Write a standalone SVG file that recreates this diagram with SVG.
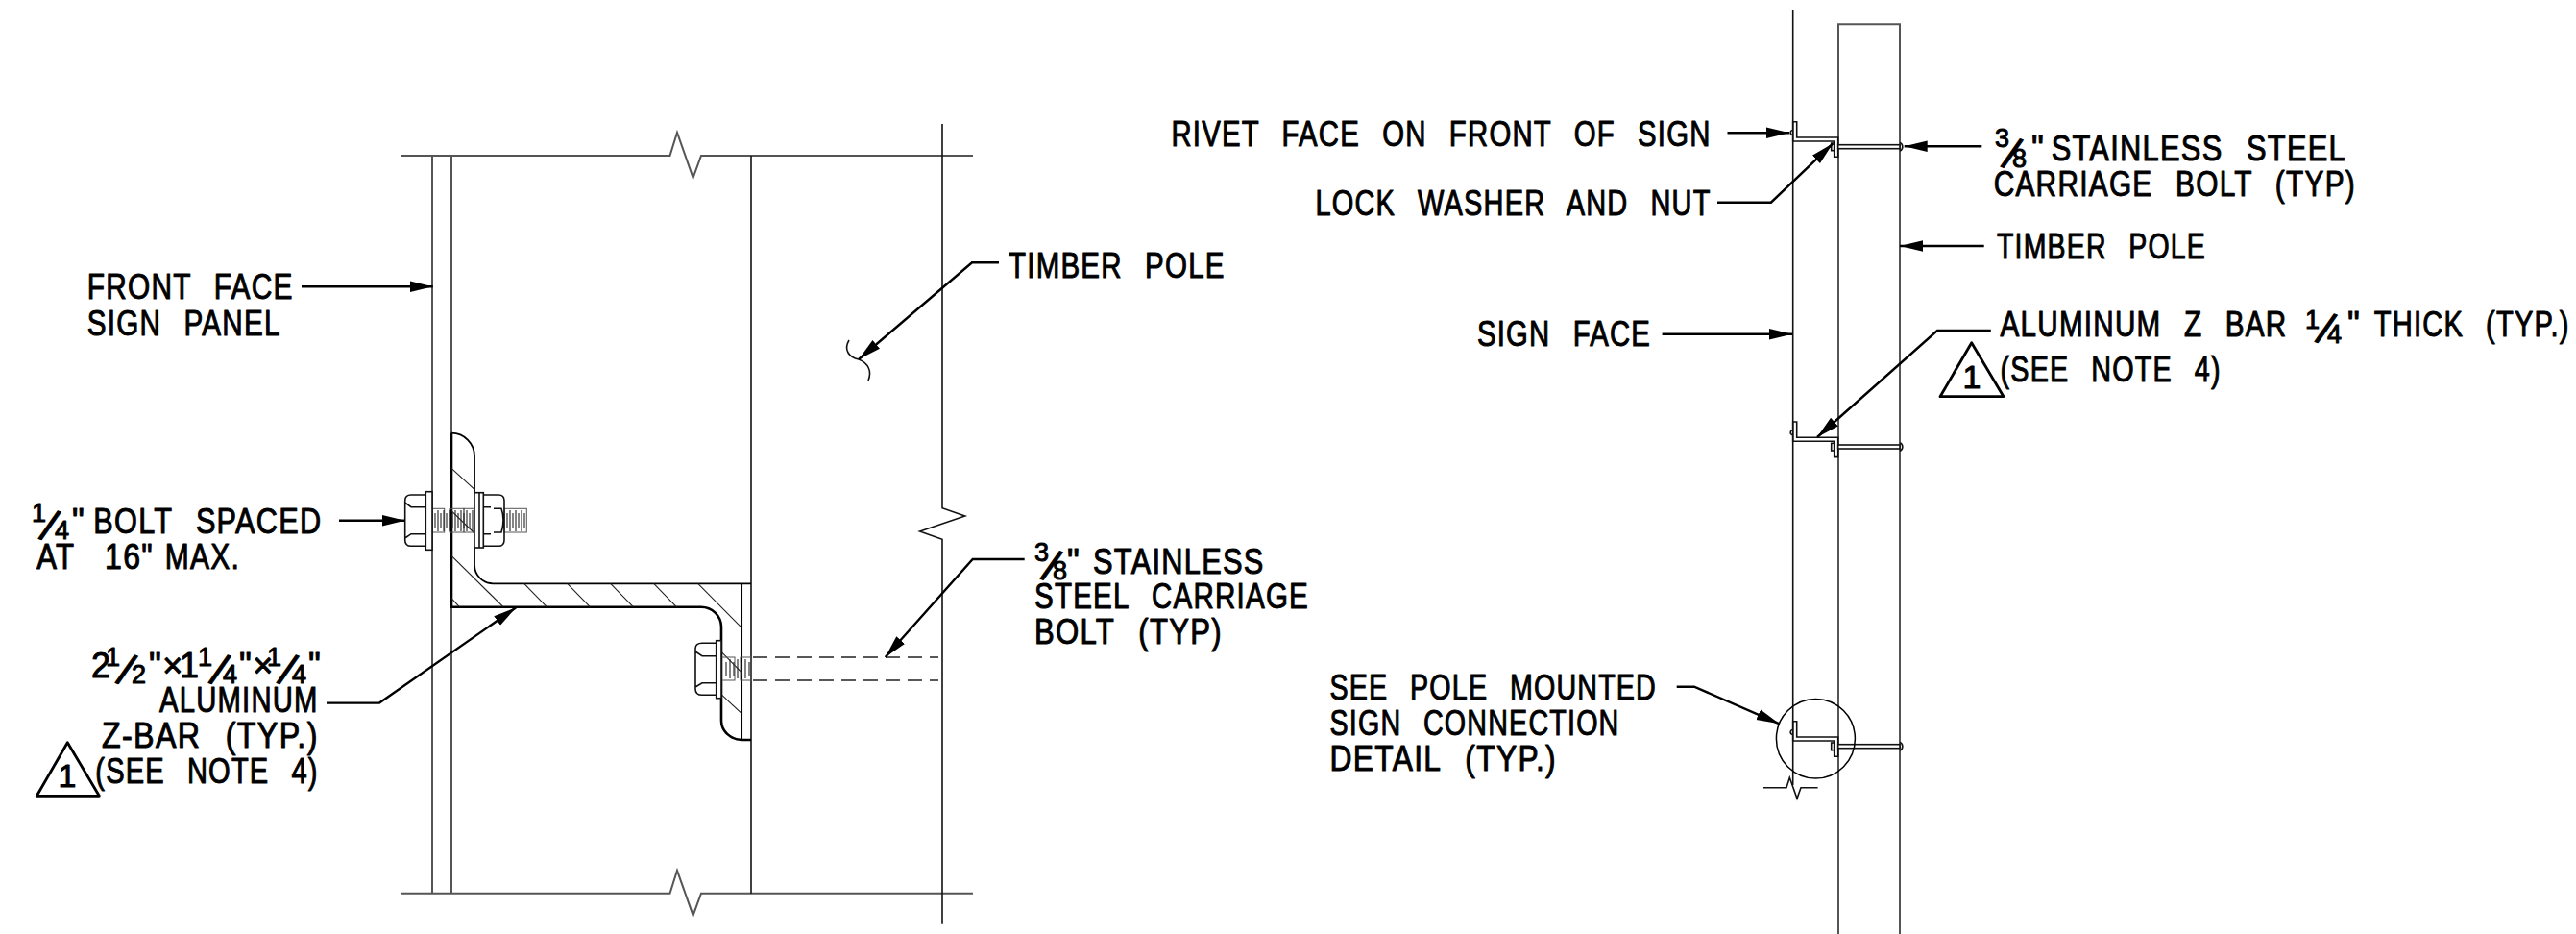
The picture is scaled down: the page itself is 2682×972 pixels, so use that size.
<svg xmlns="http://www.w3.org/2000/svg" xmlns:xlink="http://www.w3.org/1999/xlink" width="2682" height="972" viewBox="0 0 2682 972">
<style>
text{font-family:"Liberation Sans",Arial,sans-serif;font-size:36px;fill:#000;stroke:#000;stroke-width:1;stroke-linejoin:round;letter-spacing:1.5px;word-spacing:17px;white-space:pre}
.f{font-size:27px}
.s{font-size:46px}
.b{font-size:36px}
path,line,ellipse,rect{fill:none;stroke:#000;stroke-width:1.5}
.g{stroke:#555;stroke-width:2}
.k{stroke:#111;stroke-width:1.6}
.h{stroke-width:2.6}
.l{stroke:#000;stroke-width:2.4;marker-end:url(#a)}
.d{stroke:#222;stroke-width:1.3;stroke-dasharray:15 8}
.t{stroke:#222;stroke-width:1.1}
.o{stroke:#555;stroke-width:1}
.tri{stroke-width:2.8;stroke-linejoin:round}
</style>
<defs>
<marker id="a" markerUnits="userSpaceOnUse" markerWidth="26" markerHeight="14" refX="24" refY="7" orient="auto"><path d="M0 1.2L24 7L0 12.8Z" style="fill:#000;stroke:none"/></marker>
<g id="zb">
<path d="M1866.7 147V126.7H1870.7V143H1913.7V163.3H1909.7V147H1866.7Z" class="k"/>
<path d="M1866 135.5A2.6 2.6 0 0 0 1866 140.5" class="k"/>
<rect x="1906.7" y="149" width="3" height="7.7" class="k"/>
<rect x="1913.7" y="150.7" width="64.3" height="4" class="k" style="fill:#fff"/>
<path d="M1978 148.5A4.6 4.6 0 0 1 1978 157" class="k"/>
</g>
</defs>
<g id="left-section">
<path class="g" d="M417.5 162H697.5L705 138L721.6 185L730 162H1013"/>
<path class="g" d="M417.5 929.7H697.5L705 906L721.6 952.7L730 929.7H1013"/>
<path class="g" d="M450 162V929.7M470 162V929.7"/>
<path class="k" d="M782 162V929.7"/>
<path class="k" d="M981 129V528.7L1004.7 537L957.7 553L981 561.3V961.7"/>
<path class="k" d="M884 354C878 364 884 372 894 374C904 378 908 386 904 396"/>
</g>
<g id="z-bar-section">
<path class="h" d="M470 450.7A24 24 0 0 1 494 475V588A19.5 19.5 0 0 0 513.3 607.3H782" style="stroke-width:1.8"/>
<path class="h" d="M470 450.7V631.7H730A21 21 0 0 1 751 652V750A22 20 0 0 0 772.3 770H782"/>
<path d="M772.3 607.3V770"/>
<path class="t" d="M470 487.3L494 509.3M470 578.3L524 631.7M470 622.7L478.3 631.7M545.7 607.3L569.3 631.7M590.7 607.3L614.3 631.7M635.7 607.3L659.3 631.7M680.7 607.3L704.3 631.7M726.7 607.3L772.3 653.3M470 531.7L494 555M751 678.3L772.3 700M751 722.7L772.3 742.7"/>
</g>
<g id="bolt-quarter">
<rect class="o" x="450" y="529.3" width="12.7" height="24.7"/>
<rect class="o" x="468" y="529.3" width="15" height="24.7"/>
<rect class="o" x="483" y="529.3" width="20" height="24.7"/>
<rect class="o" x="525" y="529.3" width="23.3" height="24.7"/>
<path class="t" d="M453 534V550M456 531V553M459 534V550M462 531V553M465 534V550M468 531V553M471 534V550M474 531V553M477 534V550M480 531V553M483 534V550M486 531V553M489 534V550M492 531V553M528 534V550M531 531V553M534 534V550M537 531V553M540 534V550M543 531V553M546 534V550"/>
<path class="k" d="M443.3 515H428Q421.7 515 421.7 521V562Q421.7 568.3 428 568.3H443.3M443.3 527.7H428L421.7 523M443.3 555.7H428L421.7 560"/>
<rect class="k" x="443.3" y="511.7" width="6.7" height="60.6" style="fill:#fff"/>
<path class="k" d="M503.3 515H519Q525 515 525 521V562Q525 568.3 519 568.3H503.3M503.3 527.7H511M503.3 555.7H511M514 529.3H522Q526 541 522 554H514"/>
<rect class="k" x="494" y="512.7" width="9.3" height="57.3" style="fill:#fff"/>
<line class="k" x1="499" y1="512.7" x2="499" y2="570"/>
</g>
<g id="bolt-carriage">
<rect class="o" x="751" y="684" width="14" height="24"/>
<rect class="o" x="771" y="684" width="11" height="24"/>
<path class="t" d="M756 689V704M760 686V706M764 689V704M768 686V706M772 689V704M776 686V706M780 689V704"/>
<path class="k" d="M745.7 669.3H731Q724 669.3 724 675V717Q724 723.3 731 723.3H745.7M745.7 682.7H731L724 678M745.7 710.7H731L724 715"/>
<rect class="k" x="745.7" y="666.7" width="5.3" height="60" style="fill:#fff"/>
<path class="d" d="M784 684H977M784 708H977"/>
</g>
<g id="right-elevation">
<path class="k" d="M1866.7 10V817"/>
<path class="g" d="M1914 972V25.3H1978V972"/>
<path class="k" d="M1836 819.7H1860L1863.3 809.3L1871 831L1875 819.7H1892.6"/>
<use id="z-bar-top" xlink:href="#zb" href="#zb"/>
<use id="z-bar-mid" xlink:href="#zb" href="#zb" y="312.3"/>
<use id="z-bar-low" xlink:href="#zb" href="#zb" y="624"/>
<ellipse id="detail-circle" cx="1890.4" cy="768.7" rx="41" ry="41.3"/>
</g>
<g id="connectors">
<path class="l" d="M314 298.3H450.7"/>
<path class="l" d="M353 541.7H421.7"/>
<path class="l" d="M340 731.6H395L537.3 632.3"/>
<path class="l" d="M1040 273.3H1012L894 374"/>
<path class="l" d="M1066.7 582H1012.7L921.7 684"/>
<path class="l" d="M1798.5 138.3H1863"/>
<path class="l" d="M1788 210.7H1843.9L1908.3 149.3"/>
<path class="l" d="M1730.6 347.7H1866"/>
<path class="l" d="M2063.3 152.3H1982.7"/>
<path class="l" d="M2065.7 256H1978"/>
<path class="l" d="M2072.8 344H2017L1892 455"/>
<path class="l" d="M1745.7 714.7H1764L1852.7 753.3"/>
</g>
<g id="labels-left">
<text x="90.7" y="311" textLength="215" lengthAdjust="spacingAndGlyphs">FRONT FACE</text>
<text x="90.7" y="348.8" textLength="202" lengthAdjust="spacingAndGlyphs">SIGN PANEL</text>
<text><tspan class="f" x="33" y="543">1</tspan><tspan class="s" rotate="20" x="40" y="560">/</tspan><tspan class="f" x="57" y="561">4</tspan><tspan class="b" x="75" y="554.7">"</tspan></text>
<text x="97.3" y="554.7" textLength="238" lengthAdjust="spacingAndGlyphs">BOLT SPACED</text>
<text x="38.3" y="592" textLength="40" lengthAdjust="spacingAndGlyphs">AT</text>
<text x="109" y="592" textLength="51" lengthAdjust="spacingAndGlyphs">16"</text>
<text x="171.7" y="592" textLength="78.3" lengthAdjust="spacingAndGlyphs">MAX.</text>
<text><tspan class="b" x="95" y="704.7">2</tspan><tspan class="f" x="110" y="693">1</tspan><tspan class="s" rotate="20" x="120" y="710">/</tspan><tspan class="f" x="137" y="711">2</tspan><tspan class="b" x="155" y="704.7">"×</tspan><tspan class="b" x="187" y="704.7">1</tspan><tspan class="f" x="206" y="693">1</tspan><tspan class="s" rotate="20" x="217" y="710">/</tspan><tspan class="f" x="232" y="711">4</tspan><tspan class="b" x="249" y="704.7">"×</tspan><tspan class="f" x="278" y="693">1</tspan><tspan class="s" rotate="20" x="288" y="710">/</tspan><tspan class="f" x="304" y="711">4</tspan><tspan class="b" x="321" y="704.7">"</tspan></text>
<text x="166" y="741.4" textLength="165.7" lengthAdjust="spacingAndGlyphs">ALUMINUM</text>
<text x="106" y="777.8" textLength="225.7" lengthAdjust="spacingAndGlyphs">Z-BAR (TYP.)</text>
<text x="99.3" y="815" textLength="232.4" lengthAdjust="spacingAndGlyphs">(SEE NOTE 4)</text>
<path class="tri" d="M70.3 772.8L38.3 828.3H103.3Z"/>
<text x="60.5" y="819" style="font-size:34px">1</text>
<text x="1050" y="289" textLength="225.7" lengthAdjust="spacingAndGlyphs">TIMBER POLE</text>
<text><tspan class="f" x="1077" y="584">3</tspan><tspan class="s" rotate="20" x="1083" y="601.7">/</tspan><tspan class="f" x="1096" y="602.5">8</tspan><tspan class="b" x="1111" y="596.7">"</tspan></text>
<text x="1138" y="596.7" textLength="178.7" lengthAdjust="spacingAndGlyphs">STAINLESS</text>
<text x="1077" y="633" textLength="286" lengthAdjust="spacingAndGlyphs">STEEL CARRIAGE</text>
<text x="1077" y="670" textLength="196" lengthAdjust="spacingAndGlyphs">BOLT (TYP)</text>
</g>
<g id="labels-right">
<text x="1219.4" y="151.7" textLength="562.2" lengthAdjust="spacingAndGlyphs">RIVET FACE ON FRONT OF SIGN</text>
<text x="1369.4" y="224" textLength="412.2" lengthAdjust="spacingAndGlyphs">LOCK WASHER AND NUT</text>
<text x="1538" y="360" textLength="181" lengthAdjust="spacingAndGlyphs">SIGN FACE</text>
<text><tspan class="f" x="2077" y="152.5">3</tspan><tspan class="s" rotate="20" x="2083" y="172.7">/</tspan><tspan class="f" x="2095" y="173.5">8</tspan><tspan class="b" x="2115" y="166.7">"</tspan></text>
<text x="2135.7" y="166.7" textLength="307.3" lengthAdjust="spacingAndGlyphs">STAINLESS STEEL</text>
<text x="2075.7" y="204" textLength="377.3" lengthAdjust="spacingAndGlyphs">CARRIAGE BOLT (TYP)</text>
<text x="2079" y="269.3" textLength="218" lengthAdjust="spacingAndGlyphs">TIMBER POLE</text>
<text x="2082.5" y="350" textLength="299" lengthAdjust="spacingAndGlyphs">ALUMINUM Z BAR</text>
<text><tspan class="f" x="2400" y="342">1</tspan><tspan class="s" rotate="20" x="2410" y="355">/</tspan><tspan class="f" x="2423" y="357">4</tspan><tspan class="b" x="2444" y="350">"</tspan></text>
<text x="2471.7" y="350" textLength="204" lengthAdjust="spacingAndGlyphs">THICK (TYP.)</text>
<text x="2082.5" y="396.7" textLength="230.2" lengthAdjust="spacingAndGlyphs">(SEE NOTE 4)</text>
<path class="tri" d="M2052.7 356.7L2020 412.7H2086Z"/>
<text x="2043.5" y="404" style="font-size:34px">1</text>
<text x="1384.5" y="728.3" textLength="340.5" lengthAdjust="spacingAndGlyphs">SEE POLE MOUNTED</text>
<text x="1384.5" y="765" textLength="302" lengthAdjust="spacingAndGlyphs">SIGN CONNECTION</text>
<text x="1384.5" y="801.7" textLength="236.5" lengthAdjust="spacingAndGlyphs">DETAIL (TYP.)</text>
</g>
</svg>
